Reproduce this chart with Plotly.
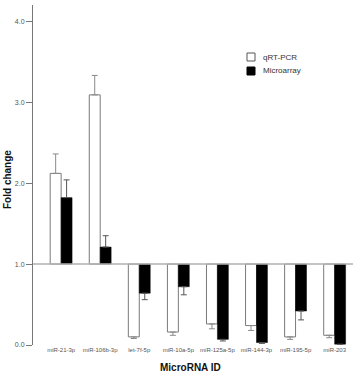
import plotly.graph_objects as go

categories = ["miR-21-3p", "miR-106b-3p", "let-7f-5p", "miR-10a-5p",
              "miR-125a-5p", "miR-144-3p", "miR-195-5p", "miR-203"]
qrt_values = [2.12, 3.09, 0.10, 0.16, 0.26, 0.24, 0.10, 0.12]
qrt_errors = [0.24, 0.24, 0.02, 0.04, 0.06, 0.06, 0.03, 0.03]
micro_values = [1.82, 1.21, 0.64, 0.72, 0.07, 0.03, 0.42, 0.01]
micro_errors = [0.22, 0.14, 0.08, 0.10, 0.02, 0.01, 0.11, 0.01]
series_names = ["qRT-PCR", "Microarray"]
baseline = 1.0
y_ticks = [0.0, 1.0, 2.0, 3.0, 4.0]

W, H = 360, 376
ML, MR, MT, MB = 33, 7, 5, 31
PW, PH = W - ML - MR, H - MT - MB


def px_x(x):
    return (x - ML) / PW


def px_y(y):
    return (H - MB - y) / PH


def split_err(vals, errs):
    up = [e if v >= baseline else 0 for v, e in zip(vals, errs)]
    down = [e if v < baseline else 0 for v, e in zip(vals, errs)]
    return up, down


q_up, q_down = split_err(qrt_values, qrt_errors)
m_up, m_down = split_err(micro_values, micro_errors)

fig = go.Figure()
fig.add_trace(go.Bar(
    x=categories, y=[v - baseline for v in qrt_values], base=baseline,
    name=series_names[0],
    marker=dict(color="white", line=dict(color="#7a7a7a", width=1)),
    error_y=dict(type="data", symmetric=False, array=q_up, arrayminus=q_down,
                 color="#8a8a8a", thickness=1, width=3),
))
fig.add_trace(go.Bar(
    x=categories, y=[v - baseline for v in micro_values], base=baseline,
    name=series_names[1],
    marker=dict(color="black", line=dict(color="black", width=0.5)),
    error_y=dict(type="data", symmetric=False, array=m_up, arrayminus=m_down,
                 color="#555555", thickness=1, width=3),
))

fig.add_shape(type="line", xref="paper", yref="y", x0=0, x1=1,
              y0=baseline, y1=baseline,
              line=dict(color="#b0b0b0", width=1.5), layer="above")

# legend drawn manually to match compact spacing
legend_items = [(series_names[0], "white", "#555"), (series_names[1], "black", "black")]
for i, (name, fill, edge) in enumerate(legend_items):
    cy = 57 + 14 * i
    fig.add_shape(type="rect", xref="paper", yref="paper",
                  x0=px_x(247), x1=px_x(255), y0=px_y(cy - 4), y1=px_y(cy + 4),
                  fillcolor=fill, line=dict(color=edge, width=1))
    fig.add_annotation(text=name, xref="paper", yref="paper",
                       x=px_x(261), y=px_y(cy), xanchor="left", yanchor="middle",
                       showarrow=False, font=dict(size=8, color="#333"))

fig.add_annotation(text="<b>MicroRNA ID</b>", xref="paper", yref="paper",
                   x=px_x(190), y=px_y(367), xanchor="center", yanchor="middle",
                   showarrow=False, font=dict(size=10, color="#111"))
fig.add_annotation(text="<b>Fold change</b>", xref="paper", yref="paper",
                   x=px_x(8), y=px_y(180), xanchor="center", yanchor="middle",
                   textangle=-90, showarrow=False, font=dict(size=10, color="#111"))

fig.update_layout(
    width=W, height=H,
    margin=dict(l=ML, r=MR, t=MT, b=MB),
    paper_bgcolor="white", plot_bgcolor="white",
    barmode="group", bargap=0.44, bargroupgap=0,
    font=dict(family="Liberation Sans, Arial, sans-serif", color="#333"),
    showlegend=False,
    xaxis=dict(range=[-0.72, 7.47], showline=False, ticks="", tickangle=0,
               automargin=False,
               tickfont=dict(size=6, color="#555"), showgrid=False),
    yaxis=dict(range=[0, 4.2], tickvals=y_ticks, tickformat=".1f",
               automargin=False,
               showline=True, linecolor="#777", linewidth=1,
               ticks="outside", ticklen=6, tickcolor="#777",
               tickfont=dict(size=7, color="#555"), showgrid=False, zeroline=False),
)

fig.write_html("out.html")
